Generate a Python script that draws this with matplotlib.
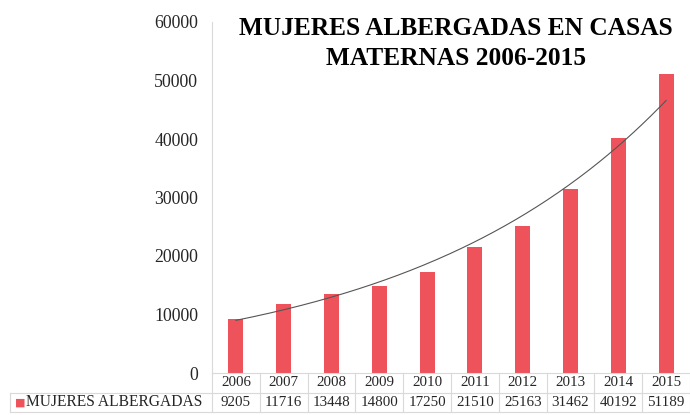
import numpy as np
import matplotlib
matplotlib.use('Agg')
import matplotlib.pyplot as plt
import matplotlib.transforms as mtransforms

# datos
years = ['2006', '2007', '2008', '2009', '2010', '2011', '2012', '2013', '2014', '2015']
mujeres = [9205, 11716, 13448, 14800, 17250, 21510, 25163, 31462, 40192, 51189]
serie = 'MUJERES ALBERGADAS'
titulo = 'MUJERES ALBERGADAS EN CASAS\nMATERNAS 2006-2015'

plt.rcParams['font.family'] = ['Liberation Serif', 'DejaVu Serif']

barColor = '#EE535B'
gridColor = '#D9D9D9'
textColor = '#262626'

fig = plt.figure(figsize=(6.9, 4.15), dpi=100)
ax = fig.add_axes([212 / 690, 1 - 373 / 415, 478 / 690, 351 / 415])

x = np.arange(len(years))
ax.bar(x, mujeres, width=0.31, color=barColor, zorder=2)

# linea de tendencia exponencial (ajuste sobre ln y)
b, a = np.polyfit(x, np.log(mujeres), 1)
xs = np.linspace(x[0], x[-1], 200)
ax.plot(xs, np.exp(a + b * xs), color='#555555', lw=0.8, zorder=3)

ax.set_xlim(-0.5, len(years) - 0.5)
ax.set_ylim(0, 60000)
ax.set_yticks(np.arange(0, 60001, 10000))
ax.set_xticks([])
ax.tick_params(axis='y', length=0, pad=10, labelsize=12.8, labelcolor=textColor)
for s in ['top', 'right']:
    ax.spines[s].set_visible(False)
ax.spines['left'].set_color(gridColor)
ax.spines['bottom'].set_color(gridColor)

# tabla de datos debajo del grafico
trans = mtransforms.blended_transform_factory(ax.transData, ax.transAxes)
rowH = 19.5 / 351
colW = 478 / len(years)
labelLeft = -0.5 - (212 - 10) / colW
lineKw = dict(color=gridColor, lw=0.8, transform=trans, clip_on=False)
for i in range(len(years) + 1):
    ax.plot([i - 0.5, i - 0.5], [0, -2 * rowH], **lineKw)
ax.plot([labelLeft, len(years) - 0.5], [-rowH, -rowH], **lineKw)
ax.plot([labelLeft, len(years) - 0.5], [-2 * rowH, -2 * rowH], **lineKw)
ax.plot([labelLeft, labelLeft], [-rowH, -2 * rowH], **lineKw)

for i, (yr, v) in enumerate(zip(years, mujeres)):
    ax.text(i, -rowH / 2, yr, ha='center', va='center', fontsize=10.8,
            color=textColor, transform=trans)
    ax.text(i, -1.5 * rowH, str(v), ha='center', va='center', fontsize=10.8,
            color=textColor, transform=trans)

ax.text(labelLeft + 0.1, -1.5 * rowH, '\u25A0', ha='left', va='center', fontsize=8,
        color=barColor, transform=trans, family=['DejaVu Sans'])
ax.text(labelLeft + 0.33, -1.5 * rowH, serie, ha='left', va='center', fontsize=11.2,
        color=textColor, transform=trans)

fig.text(456 / 690, 1 - 43.5 / 415, titulo, ha='center', va='center', fontsize=18.3,
         fontweight='bold', color='black', linespacing=1.35)

fig.savefig('out.png', dpi=100)
